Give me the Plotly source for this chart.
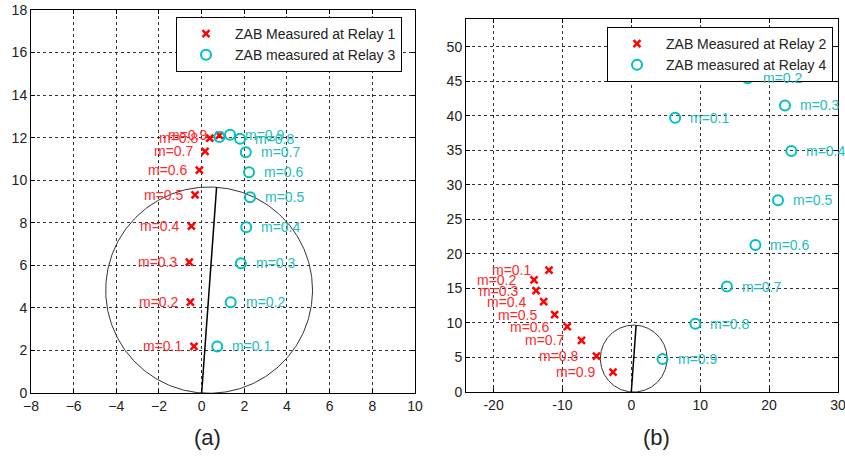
import numpy as np
import plotly.graph_objects as go

# ---------------- data ----------------
m_labels = ["m=0.1", "m=0.2", "m=0.3", "m=0.4", "m=0.5", "m=0.6", "m=0.7", "m=0.8", "m=0.9"]

# (a) Relay 1 (red crosses) and Relay 3 (cyan circles)
r1_x = [-0.36, -0.53, -0.58, -0.48, -0.31, -0.11, 0.16, 0.38, 0.83]
r1_y = [2.19, 4.27, 6.15, 7.84, 9.31, 10.47, 11.36, 11.98, 12.11]
r3_x = [0.73, 1.36, 1.84, 2.09, 2.27, 2.22, 2.07, 1.80, 1.33, 0.83]
r3_y = [2.19, 4.26, 6.10, 7.79, 9.20, 10.38, 11.31, 11.95, 12.14, 12.03]
r3_labels = m_labels + [""]

# (b) Relay 2 (red crosses) and Relay 4 (cyan circles)
r2_x = [-11.95, -14.12, -13.83, -12.72, -11.13, -9.30, -7.23, -5.06, -2.65]
r2_y = [17.66, 16.22, 14.68, 13.09, 11.21, 9.48, 7.46, 5.20, 2.89]
r4_x = [6.36, 16.87, 22.31, 23.23, 21.30, 18.02, 13.88, 9.30, 4.53]
r4_y = [39.70, 45.43, 41.48, 34.89, 27.77, 21.27, 15.26, 9.87, 4.76]

# mho characteristic reach (R, X)
reach = [0.70, 9.67]

captions = ["(a)", "(b)"]
x2_ticks = [-20, -10, 0, 10, 20, 30]

RED = "#FF0000"
CYAN = "#00BFBF"
RED_TXT = "#FF2A2A"
CYAN_TXT = "#22BDBD"
FONT = "Liberation Sans, Arial, sans-serif"

fig = go.Figure()

# mho circle + reach line
th = np.linspace(0, 2 * np.pi, 361)
cx, cy = reach[0] / 2, reach[1] / 2
rad = np.hypot(reach[0], reach[1]) / 2
for xa, ya in [("x", "y"), ("x2", "y2")]:
    fig.add_trace(go.Scatter(x=cx + rad * np.cos(th), y=cy + rad * np.sin(th), mode="lines",
                             line=dict(color="#333333", width=1), showlegend=False,
                             hoverinfo="skip", xaxis=xa, yaxis=ya))
    fig.add_trace(go.Scatter(x=[0, reach[0]], y=[0, reach[1]], mode="lines",
                             line=dict(color="#000000", width=1.5), showlegend=False,
                             hoverinfo="skip", xaxis=xa, yaxis=ya))

cross = dict(symbol="x-thin-open", size=7, color=RED, line=dict(color=RED, width=2.5))
ring = dict(symbol="circle-open", size=10, color=CYAN, line=dict(color=CYAN, width=2))

fig.add_trace(go.Scatter(x=r1_x, y=r1_y, mode="markers", marker=cross,
                         name="ZAB Measured at Relay 1", xaxis="x", yaxis="y", legend="legend"))
fig.add_trace(go.Scatter(x=r3_x, y=r3_y, mode="markers", marker=ring,
                         name="ZAB measured at Relay 3", xaxis="x", yaxis="y", legend="legend"))
fig.add_trace(go.Scatter(x=r2_x, y=r2_y, mode="markers", marker=cross,
                         name="ZAB Measured at Relay 2", xaxis="x2", yaxis="y2", legend="legend2"))
fig.add_trace(go.Scatter(x=r4_x, y=r4_y, mode="markers", marker=ring,
                         name="ZAB measured at Relay 4", xaxis="x2", yaxis="y2", legend="legend2"))

ann = []
def add_labels(xs, ys, labels, xref, yref, color, shift):
    for x, y, t in zip(xs, ys, labels):
        if not t:
            continue
        ann.append(dict(x=x, y=y, xref=xref, yref=yref, text=t, showarrow=False,
                        xanchor="right" if shift < 0 else "left",
                        xshift=shift,
                        font=dict(family=FONT, size=14, color=color)))

add_labels(r1_x, r1_y, m_labels, "x", "y", RED_TXT, -9)
add_labels(r3_x, r3_y, r3_labels, "x", "y", CYAN_TXT, 13)
add_labels(r2_x, r2_y, m_labels, "x2", "y2", RED_TXT, -15)
add_labels(r4_x, r4_y, m_labels, "x2", "y2", CYAN_TXT, 13)

ann.append(dict(x=192 / 845, y=1 - 452 / 467, xref="paper", yref="paper", text=captions[0],
                showarrow=False, font=dict(family=FONT, size=22, color="#222222")))
ann.append(dict(x=672 / 845, y=1 - 452 / 467, xref="paper", yref="paper", text=captions[1],
                showarrow=False, font=dict(family=FONT, size=22, color="#222222")))

axis_common = dict(showline=True, linecolor="#000000", linewidth=1, mirror="ticks",
                   ticks="inside", ticklen=4, tickcolor="#000000", automargin=False,
                   ticklabeloverflow="allow",
                   showgrid=True, gridcolor="#333333", gridwidth=1, griddash="3px,3px",
                   zeroline=False, tickfont=dict(family=FONT, size=14, color="#222222"))

legend_common = dict(bgcolor="#FFFFFF", bordercolor="#000000", borderwidth=1,
                     font=dict(family=FONT, size=14, color="#222222"),
                     itemwidth=48, xanchor="left", yanchor="top", tracegroupgap=0)

fig.update_layout(
    width=845, height=467, autosize=False,
    margin=dict(l=0, r=0, t=0, b=0, autoexpand=False),
    paper_bgcolor="#FFFFFF", plot_bgcolor="#FFFFFF",
    showlegend=True,
    xaxis=dict(domain=[31 / 845, 415 / 845], range=[-8, 10.001], dtick=2, tick0=0, anchor="y", **axis_common),
    yaxis=dict(domain=[1 - 393 / 467, 1 - 10 / 467], range=[0, 18.001], dtick=2, tick0=0, anchor="x", **axis_common),
    xaxis2=dict(domain=[466 / 845, 838 / 845], range=[-24, 30.01], tickmode="array",
                tickvals=x2_ticks, ticktext=[str(v) for v in x2_ticks], anchor="y2", **axis_common),
    yaxis2=dict(domain=[1 - 392 / 467, 1 - 19 / 467], range=[0, 54], dtick=5, tick0=0, anchor="x2", **axis_common),
    legend=dict(x=176 / 845, y=1 - 17 / 467, **legend_common),
    legend2=dict(x=607 / 845, y=1 - 27 / 467, **legend_common),
    annotations=ann,
)

fig.write_html("out.html")
